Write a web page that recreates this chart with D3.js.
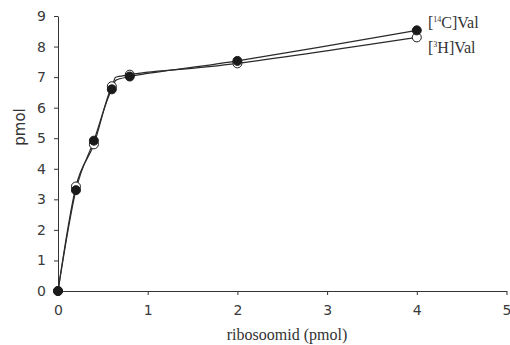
<!DOCTYPE html>
<html>
<head>
<meta charset="utf-8">
<script src="https://cdn.jsdelivr.net/npm/d3@7"></script>
<style>
  body { margin: 0; background: #fff; }
  .tick text { font-family: "DejaVu Sans", Verdana, sans-serif; font-size: 14px; fill: #3a3a3a; }
  .axis path, .axis line { stroke: #333; }
  .serif { font-family: "Liberation Serif", "Times New Roman", serif; fill: #333; }
</style>
</head>
<body>
<div id="chart"></div>
<script>
var xValues = [0, 0.2, 0.4, 0.6, 0.8, 2, 4];
var c14Values = [0, 3.3, 4.92, 6.6, 7.02, 7.53, 8.53];
var h3Values = [0, 3.42, 4.8, 6.7, 7.08, 7.45, 8.3];
var xTicks = [0, 1, 2, 3, 4, 5];
var yTicks = [0, 1, 2, 3, 4, 5, 6, 7, 8, 9];

var fullWidth = 510, fullHeight = 345;
var margin = {top: 16, right: 3, bottom: 54, left: 58};
var width = fullWidth - margin.left - margin.right;
var height = fullHeight - margin.top - margin.bottom;

var svg = d3.select("#chart").append("svg")
    .attr("width", fullWidth)
    .attr("height", fullHeight);

var g = svg.append("g")
    .attr("transform", "translate(" + margin.left + "," + margin.top + ")");

var xScale = d3.scaleLinear().domain([0, 5]).range([0, 448.5]);
var yScale = d3.scaleLinear().domain([0, 9]).range([height, 0]);

g.append("g")
    .attr("class", "axis")
    .attr("transform", "translate(0," + height + ")")
    .call(d3.axisBottom(xScale).tickValues(xTicks).tickFormat(d3.format("d"))
        .tickSize(4).tickSizeOuter(0).tickPadding(10));

g.append("g")
    .attr("class", "axis")
    .call(d3.axisLeft(yScale).tickValues(yTicks).tickFormat(d3.format("d"))
        .tickSize(4).tickSizeOuter(0).tickPadding(8));

var line = d3.line()
    .x(function(d) { return xScale(d[0]); })
    .y(function(d) { return yScale(d[1]); })
    .curve(d3.curveCardinal.tension(0));

var series = [
  {name: "h3", values: h3Values, fill: "#fff"},
  {name: "c14", values: c14Values, fill: "#1a1a1a"}
];

series.forEach(function(s) {
  var pts = xValues.map(function(x, i) { return [x, s.values[i]]; });
  g.append("path")
      .datum(pts)
      .attr("d", line)
      .attr("fill", "none")
      .attr("stroke", "#2a2a2a")
      .attr("stroke-width", 1.2);
});

series.forEach(function(s) {
  var pts = xValues.map(function(x, i) { return [x, s.values[i]]; });
  g.selectAll("circle." + s.name)
      .data(pts)
      .enter()
      .append("circle")
      .attr("class", s.name)
      .attr("cx", function(d) { return xScale(d[0]); })
      .attr("cy", function(d) { return yScale(d[1]); })
      .attr("r", 4.5)
      .attr("fill", s.fill)
      .attr("stroke", "#1a1a1a")
      .attr("stroke-width", 1);
});

// legend labels
var lbl1 = svg.append("text")
    .attr("class", "serif")
    .attr("x", 428).attr("y", 28)
    .attr("font-size", 16);
lbl1.append("tspan").text("[");
lbl1.append("tspan").text("14").attr("font-size", 8).attr("dy", -6);
lbl1.append("tspan").text("C]Val").attr("dy", 6);

var lbl2 = svg.append("text")
    .attr("class", "serif")
    .attr("x", 428).attr("y", 53)
    .attr("font-size", 16);
lbl2.append("tspan").text("[");
lbl2.append("tspan").text("3").attr("font-size", 8).attr("dy", -6);
lbl2.append("tspan").text("H]Val").attr("dy", 6);

svg.append("text")
    .attr("transform", "translate(25,127) rotate(-90)")
    .attr("text-anchor", "middle")
    .attr("font-family", "DejaVu Sans, Verdana, sans-serif")
    .attr("font-size", 15).attr("fill", "#333")
    .text("pmol");

svg.append("text")
    .attr("class", "serif")
    .attr("x", 287).attr("y", 340)
    .attr("text-anchor", "middle")
    .attr("font-size", 16)
    .text("ribosoomid (pmol)");
</script>
</body>
</html>
